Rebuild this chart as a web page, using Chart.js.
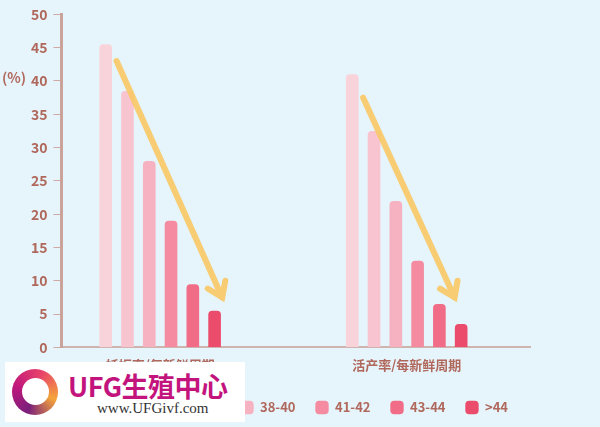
<!DOCTYPE html>
<html>
<head>
<meta charset="utf-8">
<script src="https://cdn.jsdelivr.net/npm/chart.js@4.4.1/dist/chart.umd.min.js"></script>
<style>
  html, body { margin: 0; padding: 0; background: #e6f4fb; }
  #wrap { position: relative; width: 600px; height: 427px; overflow: hidden; }
  #pct { position: absolute; left: 2px; top: 67px; font: bold 14px "Noto Sans CJK SC", sans-serif; color: #b0685c; }
  #logo { position: absolute; left: 5px; top: 362px; width: 240px; height: 60px; background: #fff; }
  #logo .ring { position: absolute; left: 7px; top: 7px; width: 46px; height: 46px; border-radius: 50%;
    background: conic-gradient(from 200deg, #7a1f7a, #c2187c, #e8436a, #f4a43a, #7a1f7a); }
  #logo .ring::after { content: ""; position: absolute; left: 10px; top: 9px; width: 27px; height: 27px; border-radius: 50%; background: #fff; }
  #logo .name { position: absolute; left: 63px; top: 4px; font: bold 27px "Noto Sans CJK SC", sans-serif; color: #c3137d; letter-spacing: -0.5px; }
  #logo .url { position: absolute; left: 92px; top: 38px; font: 15px "Liberation Serif", serif; color: #333; }
</style>
</head>
<body>
<div id="wrap">
  <canvas id="chart" width="600" height="427"></canvas>
  <div id="pct">(%)</div>
  <div id="logo"><div class="ring"></div><div class="name">UFG生殖中心</div><div class="url">www.UFGivf.com</div></div>
</div>
<script>
// groups on the x axis
const groups = ["妊娠率/每新鲜周期", "活产率/每新鲜周期"];
// age brackets (one dataset each)
const ages = ["<35", "35-37", "38-40", "41-42", "43-44", ">44"];
const ageColors = ["#f9d3da", "#f8c4cf", "#f6b2c0", "#f48ba0", "#f16c87", "#ec4c6c"];
// values per age bracket: [妊娠率, 活产率]
const values = [
  [45.5, 41],
  [38.5, 32.5],
  [28, 22],
  [19, 13],
  [9.5, 6.5],
  [5.5, 3.5]
];
const yTicks = [0, 5, 10, 15, 20, 25, 30, 35, 40, 45, 50];
// trend arrows (value at start / end)
const arrowFrom = [43, 37.5];
const arrowTo = [7.5, 7.5];

const txt = "#b0685c";
const font = "'Noto Sans CJK SC', sans-serif";

const arrows = {
  id: "arrows",
  afterLayout(chart) {
    // legend row sits a bit right of centre in the original
    chart.legend.left += 28;
    chart.legend.right += 28;
  },
  afterDatasetsDraw(chart) {
    const ctx = chart.ctx, y = chart.scales.y;
    const endShift = [0.35, -0.3];
    groups.forEach((g, i) => {
      const b0 = chart.getDatasetMeta(0).data[i];
      const b1 = chart.getDatasetMeta(1).data[i];
      const b5 = chart.getDatasetMeta(5).data[i];
      const step = b1.x - b0.x;
      const x1 = (b0.x + b1.x) / 2, y1 = y.getPixelForValue(arrowFrom[i]);
      const x2 = b5.x + endShift[i] * step, y2 = y.getPixelForValue(arrowTo[i]);
      const a = Math.atan2(y2 - y1, x2 - x1);
      ctx.save();
      ctx.strokeStyle = "rgba(248,200,100,0.9)";
      ctx.lineWidth = 6;
      ctx.lineCap = "round";
      ctx.beginPath();
      ctx.moveTo(x1, y1);
      ctx.lineTo(x2, y2);
      ctx.moveTo(x2 + 17 * Math.cos(a + Math.PI - 0.6), y2 + 17 * Math.sin(a + Math.PI - 0.6));
      ctx.lineTo(x2, y2);
      ctx.lineTo(x2 + 17 * Math.cos(a + Math.PI + 0.6), y2 + 17 * Math.sin(a + Math.PI + 0.6));
      ctx.stroke();
      ctx.restore();
    });
  }
};

new Chart(document.getElementById("chart"), {
  type: "bar",
  data: {
    datasets: ages.map((a, k) => ({
      label: a,
      data: groups.map((g, i) => ({ x: i + 1, y: values[k][i] })),
      backgroundColor: ageColors[k],
      borderRadius: 4,
      borderSkipped: "bottom",
      barPercentage: 0.58,
      categoryPercentage: 0.53
    }))
  },
  options: {
    responsive: false,
    animation: false,
    layout: { padding: { top: 8, right: 70, left: 25, bottom: 3 } },
    plugins: {
      tooltip: { enabled: false },
      legend: {
        position: "bottom",
        labels: {
          color: txt,
          font: { family: font, size: 13, weight: "bold" },
          boxWidth: 14,
          boxHeight: 11,
          padding: 20,
          usePointStyle: true,
          pointStyle: "rectRounded"
        }
      }
    },
    scales: {
      x: {
        type: "linear",
        offset: false,
        min: 0.6,
        max: 2.5,
        afterBuildTicks: s => { s.ticks = groups.map((g, i) => ({ value: i + 1 })); },
        afterFit: s => { s.height -= 2; },
        ticks: { callback: v => groups[v - 1], color: txt, font: { family: font, size: 13, weight: "bold" }, padding: 10, maxRotation: 0 },
        grid: { display: false, drawTicks: false, offset: false },
        border: { color: "#cfb3ae", width: 2 }
      },
      y: {
        min: 0,
        max: 50,
        afterBuildTicks: s => { s.ticks = yTicks.map(v => ({ value: v })); },
        ticks: { color: txt, font: { family: font, size: 14, weight: "bold" }, padding: 6 },
        grid: { drawOnChartArea: false, tickLength: 8, color: "#cfa9a2", tickWidth: 1 },
        border: { color: "#c9a39c", width: 3 }
      }
    }
  },
  plugins: [arrows]
});
</script>
</body>
</html>
